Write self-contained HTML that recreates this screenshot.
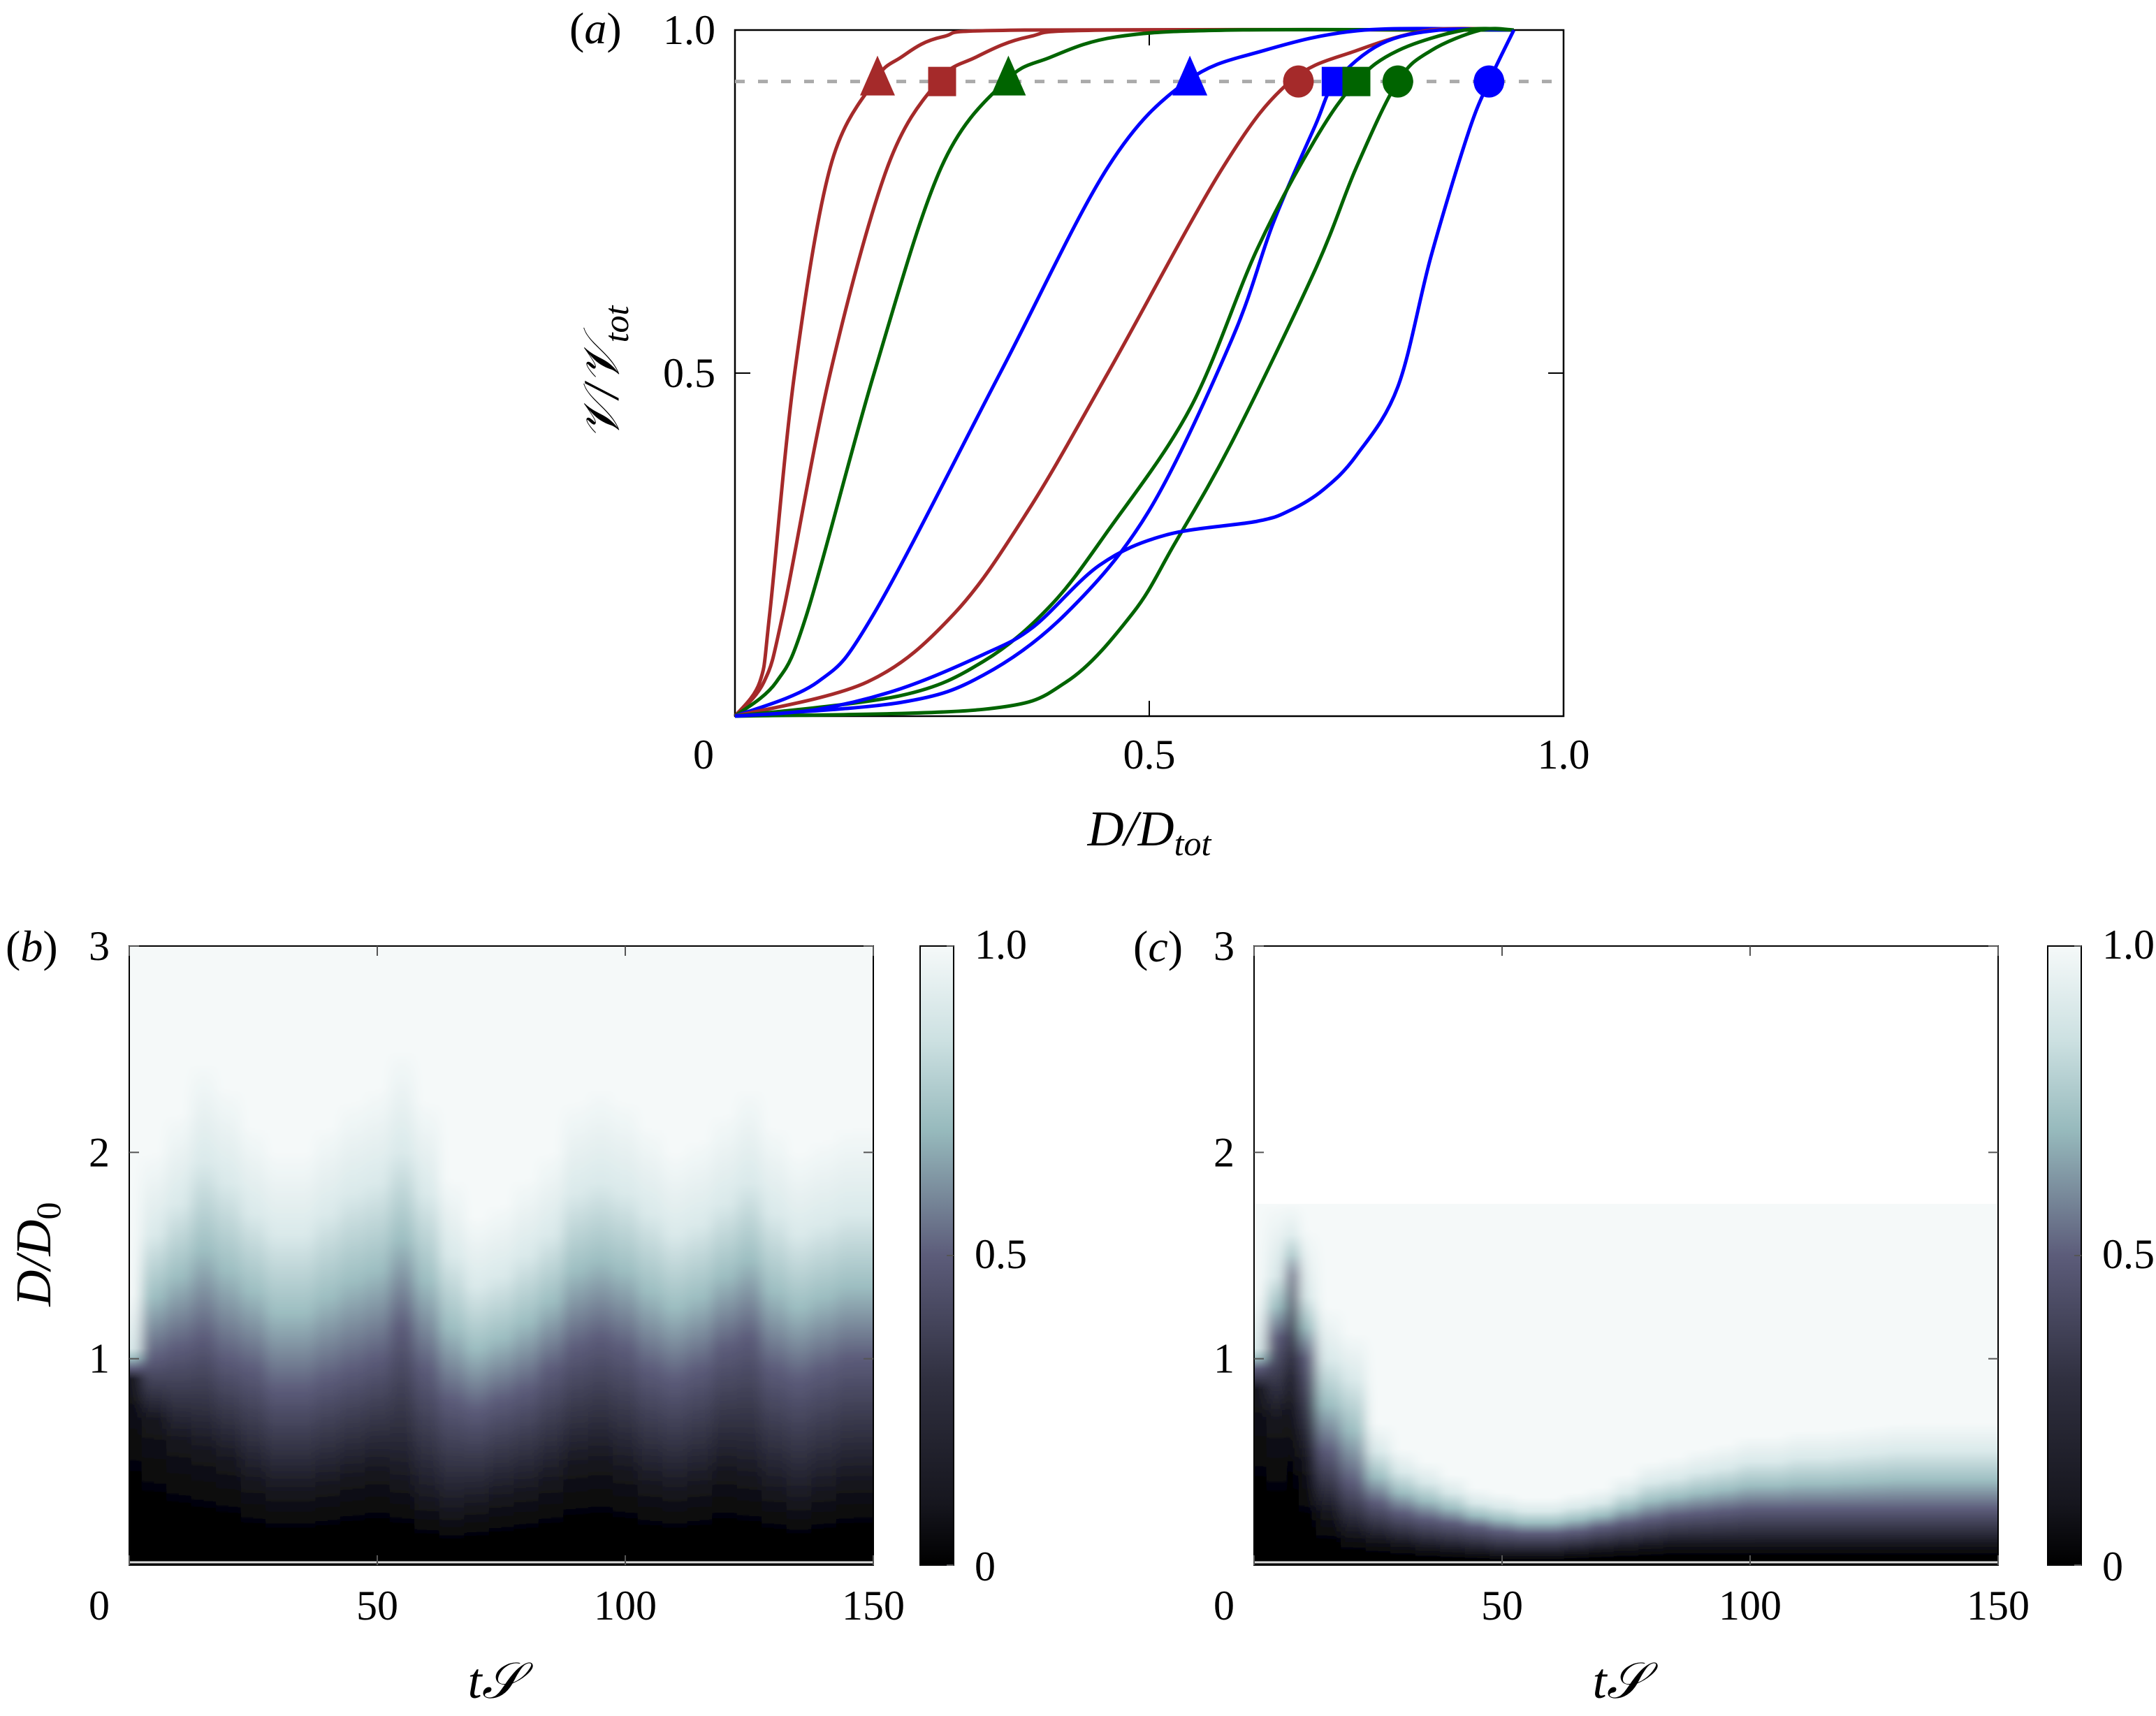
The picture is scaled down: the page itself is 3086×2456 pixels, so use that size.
<!DOCTYPE html>
<html><head><meta charset="utf-8"><style>
html,body{margin:0;padding:0;background:#fff;}
svg text, svg tspan{font-family:"Liberation Serif","DejaVu Serif",serif;fill:#000;}
</style></head><body>
<svg id="fig" width="3086" height="2451" viewBox="0 0 3086 2451" xmlns="http://www.w3.org/2000/svg" font-family="Liberation Serif, serif">
<defs id="defs">
<filter id="xblur" x="0" y="0" width="1" height="1"><feGaussianBlur stdDeviation="9 0" edgeMode="duplicate"/></filter>
<clipPath id="clipB"><rect x="185" y="1354" width="1065" height="886"/></clipPath>
<clipPath id="clipC"><rect x="1795" y="1354" width="1065" height="886"/></clipPath>
</defs>
<g id="panelA"></g>
<g id="panelB"></g>
<g id="panelC"></g>
</svg>
<script>
// ---------- Panel (a) data ----------
const curveNames = ["red-triangle","red-square","green-triangle","blue-triangle","red-circle","blue-square","green-square","green-circle","blue-circle"];
const curveColors = ["#a52a2a","#a52a2a","#006400","#0000ff","#a52a2a","#0000ff","#006400","#006400","#0000ff"];
const curveMarkers = ["tri","sq","tri","tri","circ","sq","sq","circ","circ"];
const curveX = [
 [0.0,0.03,0.042,0.072,0.115,0.168,0.2,0.25,0.35,0.94],
 [0.0,0.035,0.058,0.115,0.184,0.245,0.29,0.354,0.45,0.94],
 [0.0,0.05,0.087,0.168,0.249,0.326,0.38,0.46,0.6,0.94],
 [0.0,0.10,0.168,0.32,0.45,0.545,0.638,0.76,0.94],
 [0.0,0.16,0.265,0.354,0.45,0.589,0.67,0.75,0.84,0.94],
 [0.0,0.2,0.3,0.4,0.5,0.6,0.65,0.7,0.725,0.78,0.85,0.94],
 [0.0,0.2,0.3,0.38,0.45,0.55,0.63,0.7,0.75,0.8,0.88,0.94],
 [0.0,0.3,0.4,0.48,0.53,0.6,0.7,0.75,0.8,0.84,0.9,0.94],
 [0.0,0.1,0.2,0.3,0.36,0.44,0.52,0.63,0.67,0.71,0.75,0.8,0.84,0.885,0.91,0.94]
];
const curveY = [
 [0,0.05,0.15,0.5,0.8,0.925,0.96,0.99,1,1],
 [0,0.05,0.15,0.5,0.8,0.925,0.96,0.99,1,1],
 [0,0.05,0.15,0.5,0.8,0.925,0.96,0.99,1,1],
 [0,0.05,0.15,0.5,0.8,0.925,0.97,1,1],
 [0,0.05,0.15,0.3,0.5,0.8,0.925,0.97,1,1],
 [0,0.02,0.06,0.15,0.3,0.55,0.72,0.86,0.925,0.98,1,1],
 [0,0.03,0.08,0.16,0.27,0.45,0.68,0.84,0.925,0.97,1,1],
 [0,0.01,0.05,0.15,0.25,0.4,0.65,0.8,0.925,0.97,1,1],
 [0,0.01,0.04,0.09,0.13,0.22,0.264,0.284,0.30,0.33,0.38,0.48,0.67,0.85,0.925,1]
];
const markerX = [0.172,0.25,0.33,0.549,0.68,0.725,0.75,0.80,0.91];
const markerLevel = [0.925];
const aTicks = [0,0.5,1.0];
const aTickLabels = ["0","0.5","1.0"];

// ---------- Panel (b) data ----------
const timesB = [0,5,10,15,20,25,30,35,40,45,50,55,60,65,70,75,80,85,90,95,100,105,110,115,120,125,130,135,140,145,150];
const d10B = [0.9,0.7,0.6,0.55,0.5,0.4,0.35,0.35,0.38,0.42,0.45,0.4,0.3,0.25,0.28,0.32,0.35,0.4,0.48,0.5,0.45,0.38,0.35,0.38,0.45,0.42,0.35,0.3,0.35,0.4,0.4];
const d50B = [0.95,1.0,1.05,1.1,1.0,0.95,0.85,0.85,0.9,0.95,1.0,1.15,0.95,0.8,0.75,0.8,0.85,0.95,1.05,1.1,1.05,0.95,0.9,0.95,1.05,1.1,0.95,0.9,0.95,1.0,1.0];
const d90B = [1.05,1.6,1.75,1.95,1.85,1.7,1.6,1.6,1.7,1.8,1.85,2.0,1.8,1.5,1.35,1.4,1.5,1.6,1.8,1.85,1.8,1.7,1.6,1.65,1.75,1.85,1.7,1.6,1.65,1.7,1.7];
// ---------- Panel (c) data ----------
const timesC = [0,5,8,10,15,20,25,30,35,40,45,50,55,60,65,70,75,80,85,90,95,100,105,110,115,120,125,130,135,140,145,150];
const d10C = [0.85,0.7,0.9,0.5,0.25,0.15,0.12,0.1,0.08,0.07,0.06,0.05,0.05,0.05,0.06,0.07,0.08,0.09,0.1,0.1,0.1,0.1,0.1,0.1,0.1,0.1,0.1,0.1,0.1,0.1,0.1,0.1];
const d50C = [0.95,1.1,1.4,1.0,0.55,0.4,0.3,0.25,0.22,0.2,0.18,0.16,0.15,0.15,0.16,0.18,0.2,0.22,0.24,0.25,0.26,0.27,0.27,0.27,0.27,0.27,0.27,0.27,0.27,0.27,0.27,0.27];
const d90C = [1.05,1.4,1.6,1.3,1.0,0.9,0.55,0.45,0.4,0.35,0.3,0.28,0.26,0.26,0.28,0.3,0.35,0.4,0.42,0.45,0.47,0.5,0.5,0.52,0.52,0.53,0.54,0.55,0.55,0.55,0.55,0.55];
const ceilingC = [1.75];
const hmXTicks = [0,50,100,150];
const hmYTicks = [1,2,3];
const cbTicks = [0,0.5,1.0];
const cbTickLabels = ["0","0.5","1.0"];

const NS = "http://www.w3.org/2000/svg";
function mk(tag, attrs, parent){const e=document.createElementNS(NS,tag);for(const k in attrs)e.setAttribute(k,attrs[k]);parent.appendChild(e);return e;}
const defs=document.getElementById('defs');
function smoothPath(P){
 let d=`M${P[0][0]},${P[0][1]}`;
 for(let i=0;i<P.length-1;i++){
  const p0=P[Math.max(0,i-1)],p1=P[i],p2=P[i+1],p3=P[Math.min(P.length-1,i+2)];
  const c1=[p1[0]+(p2[0]-p0[0])/6,p1[1]+(p2[1]-p0[1])/6];
  const c2=[p2[0]-(p3[0]-p1[0])/6,p2[1]-(p3[1]-p1[1])/6];
  d+=` C${c1[0]},${c1[1]} ${c2[0]},${c2[1]} ${p2[0]},${p2[1]}`;
 }
 return d;
}

// ===== Panel A =====
(function(){
 const g=document.getElementById('panelA');
 const L=1052,R=2238,T=43,B=1025;
 const sx=v=>L+v*(R-L), sy=v=>B-v*(B-T);
 mk('rect',{x:L,y:T,width:R-L,height:B-T,fill:'#fff',stroke:'#000','stroke-width':2.5},g);
 aTicks.forEach((t,i)=>{
  let e=mk('line',{x1:sx(t),x2:sx(t),y1:B,y2:B-22,stroke:'#000','stroke-width':2},g);
  
  
  mk('line',{x1:sx(t),x2:sx(t),y1:T,y2:T+22,stroke:'#000','stroke-width':2},g);
  mk('line',{x1:L,x2:L+22,y1:sy(t),y2:sy(t),stroke:'#000','stroke-width':2},g);
  mk('line',{x1:R,x2:R-22,y1:sy(t),y2:sy(t),stroke:'#000','stroke-width':2},g);
  const tx=mk('text',{x:(i==0?sx(t)-45:sx(t)),y:1100,'font-size':60,'text-anchor':'middle'},g);
  tx.textContent=aTickLabels[i];
  
  
  if(i>0){
   const ty=mk('text',{x:L-28,y:sy(t)+20,'font-size':60,'text-anchor':'end'},g);
   ty.textContent=aTickLabels[i];
   
   
  }
 });
 const dl=mk('line',{x1:L,x2:R,y1:sy(markerLevel[0]),y2:sy(markerLevel[0]),stroke:'#aaa','stroke-width':5,'stroke-dasharray':'14 19'},g);
 
 
 curveX.forEach((xs,ci)=>{
  const P=xs.map((x,j)=>[sx(x),sy(curveY[ci][j])]);
  const p=mk('path',{d:smoothPath(P),fill:'none',stroke:curveColors[ci],'stroke-width':5,'stroke-linejoin':'round'},g);
  
  
 });
 markerX.forEach((mx,ci)=>{
  const cx=sx(mx), cy=sy(markerLevel[0]); let m;
  if(curveMarkers[ci]=='tri') m=mk('polygon',{points:`${cx},${cy-37} ${cx-25},${cy+20} ${cx+25},${cy+20}`,fill:curveColors[ci]},g);
  else if(curveMarkers[ci]=='sq') m=mk('rect',{x:cx-20,y:cy-21,width:40,height:42,fill:curveColors[ci]},g);
  else m=mk('ellipse',{cx:cx,cy:cy,rx:22,ry:23,fill:curveColors[ci]},g);
  
  
 });
 let t=mk('text',{x:815,y:62,'font-size':64},g); t.innerHTML='(<tspan font-style="italic">a</tspan>)';
  
 t=mk('text',{x:1645,y:1210,'font-size':72,'text-anchor':'middle','font-style':'italic'},g);
 t.innerHTML='D/D<tspan font-size="50" dy="14">tot</tspan>';
  
 t=mk('text',{x:0,y:0,'font-size':72,'text-anchor':'middle','font-style':'italic',transform:'translate(885,534) rotate(-90)'},g);
 t.innerHTML='𝒱/𝒱<tspan font-size="50" dy="14">tot</tspan>';
  
})();

// ===== Heatmaps =====
const cmap=[[0,[0,0,0]],[0.1,[22,22,30]],[0.3,[48,48,64]],[0.5,[92,92,122]],[0.7,[150,185,188]],[0.85,[205,225,226]],[1,[245,249,249]]];
function col(v){for(let i=1;i<cmap.length;i++){if(v<=cmap[i][0]){const a=cmap[i-1],b=cmap[i],f=(v-a[0])/(b[0]-a[0]);const c=a[1].map((x,k)=>Math.round(x+f*(b[1][k]-x)));return `rgb(${c})`;}}return 'rgb(245,249,249)';}
let gid=0;
function heatmap(g,L,R,T,B,times,d10,d50,d90,ceil,name,clip){
 const sx=v=>L+v/150*(R-L), sy=v=>B-v/3*(B-T);
 mk('rect',{x:L,y:T,width:R-L,height:B-T,fill:'#fff'},g);
 const top = ceil!=null ? sy(ceil) : T;
 const cg=mk('g',{'clip-path':`url(#${clip})`},g);
 mk('rect',{x:L,y:top,width:R-L,height:B-top,fill:'rgb(245,249,249)'},cg);
 const hg=mk('g',{filter:'url(#xblur)'},cg);
 
 
 for(let i=0;i<times.length;i++){
  const x0=i==0?sx(times[0])-20:sx((times[i-1]+times[i])/2);
  const x1=i==times.length-1?sx(times[i])+20:sx((times[i]+times[i+1])/2);
  const id='hg'+(gid++);
  const lg=mk('linearGradient',{id:id,gradientUnits:'userSpaceOnUse',x1:0,x2:0,y1:B,y2:top},defs);
  const span=(ceil!=null?ceil:3);
  const stops=[[0,0],[d10[i]*0.5,0.02],[d10[i],0.1],[d50[i],0.5],[(d50[i]+d90[i])/2,0.72],[d90[i],0.9],[Math.min(d90[i]*1.25,span),1]];
  stops.forEach(s=>mk('stop',{offset:Math.min(1,s[0]/span),'stop-color':col(s[1])},lg));
  const r=mk('rect',{x:x0,y:top,width:x1-x0+0.8,height:B-top,fill:`url(#${id})`},hg);
  
  
 }
 mk('line',{x1:L,x2:R,y1:B-4,y2:B-4,stroke:'#ddd','stroke-width':3},g);
 mk('rect',{x:L,y:T,width:R-L,height:B-T,fill:'none',stroke:'#000','stroke-width':2},g);
 hmXTicks.forEach((t,i)=>{
  mk('line',{x1:sx(t),x2:sx(t),y1:B,y2:B-14,stroke:'#555','stroke-width':2},g);
  mk('line',{x1:sx(t),x2:sx(t),y1:T,y2:T+14,stroke:'#555','stroke-width':2},g);
  const tx=mk('text',{x:i==0?sx(t)-43:sx(t),y:2318,'font-size':60,'text-anchor':'middle'},g);
  tx.textContent=String(t);
  
  
 });
 hmYTicks.forEach(t=>{
  mk('line',{x1:L,x2:L+14,y1:sy(t),y2:sy(t),stroke:'#555','stroke-width':2},g);
  mk('line',{x1:R,x2:R-14,y1:sy(t),y2:sy(t),stroke:'#555','stroke-width':2},g);
  const ty=mk('text',{x:L-28,y:sy(t)+20,'font-size':60,'text-anchor':'end'},g);
  ty.textContent=String(t);
  
  
 });
 const xt=mk('text',{x:(L+R)/2-10,y:2430,'font-size':72,'text-anchor':'middle','font-style':'italic'},g);
 xt.textContent='t𝒮';
 
 
}
function colorbar(g,x,T,B,name){
 const id='cb'+name;
 const lg=mk('linearGradient',{id:id,x1:0,x2:0,y1:1,y2:0},defs);
 cmap.forEach(s=>mk('stop',{offset:s[0],'stop-color':col(s[0])},lg));
 const r=mk('rect',{x:x,y:T,width:48,height:B-T,fill:`url(#${id})`,stroke:'#000','stroke-width':2},g);
 
 
 cbTicks.forEach((t,i)=>{
  const y=B-t*(B-T);
  mk('line',{x1:x+48,x2:x+38,y1:y,y2:y,stroke:'#555','stroke-width':2},g);
  const tx=mk('text',{x:x+78,y:y+(i==0?22:18),'font-size':60},g);
  tx.textContent=cbTickLabels[i];
  
  
 });
}
(function(){
 const g=document.getElementById('panelB');
 heatmap(g,185,1250,1354,2240,timesB,d10B,d50B,d90B,null,'panel-b','clipB');
 colorbar(g,1317,1354,2240,'panel-b');
 let t=mk('text',{x:8,y:1376,'font-size':64},g); t.innerHTML='(<tspan font-style="italic">b</tspan>)';
  
 t=mk('text',{x:0,y:0,'font-size':72,'text-anchor':'middle','font-style':'italic',transform:'translate(72,1795) rotate(-90)'},g);
 t.innerHTML='D/D<tspan font-style="normal" font-size="50" dy="14">0</tspan>';
  
})();
(function(){
 const g=document.getElementById('panelC');
 heatmap(g,1795,2860,1354,2240,timesC,d10C,d50C,d90C,ceilingC[0],'panel-c','clipC');
 colorbar(g,2931,1354,2240,'panel-c');
 let t=mk('text',{x:1622,y:1376,'font-size':64},g); t.innerHTML='(<tspan font-style="italic">c</tspan>)';
  
})();
</script>
</body></html>
